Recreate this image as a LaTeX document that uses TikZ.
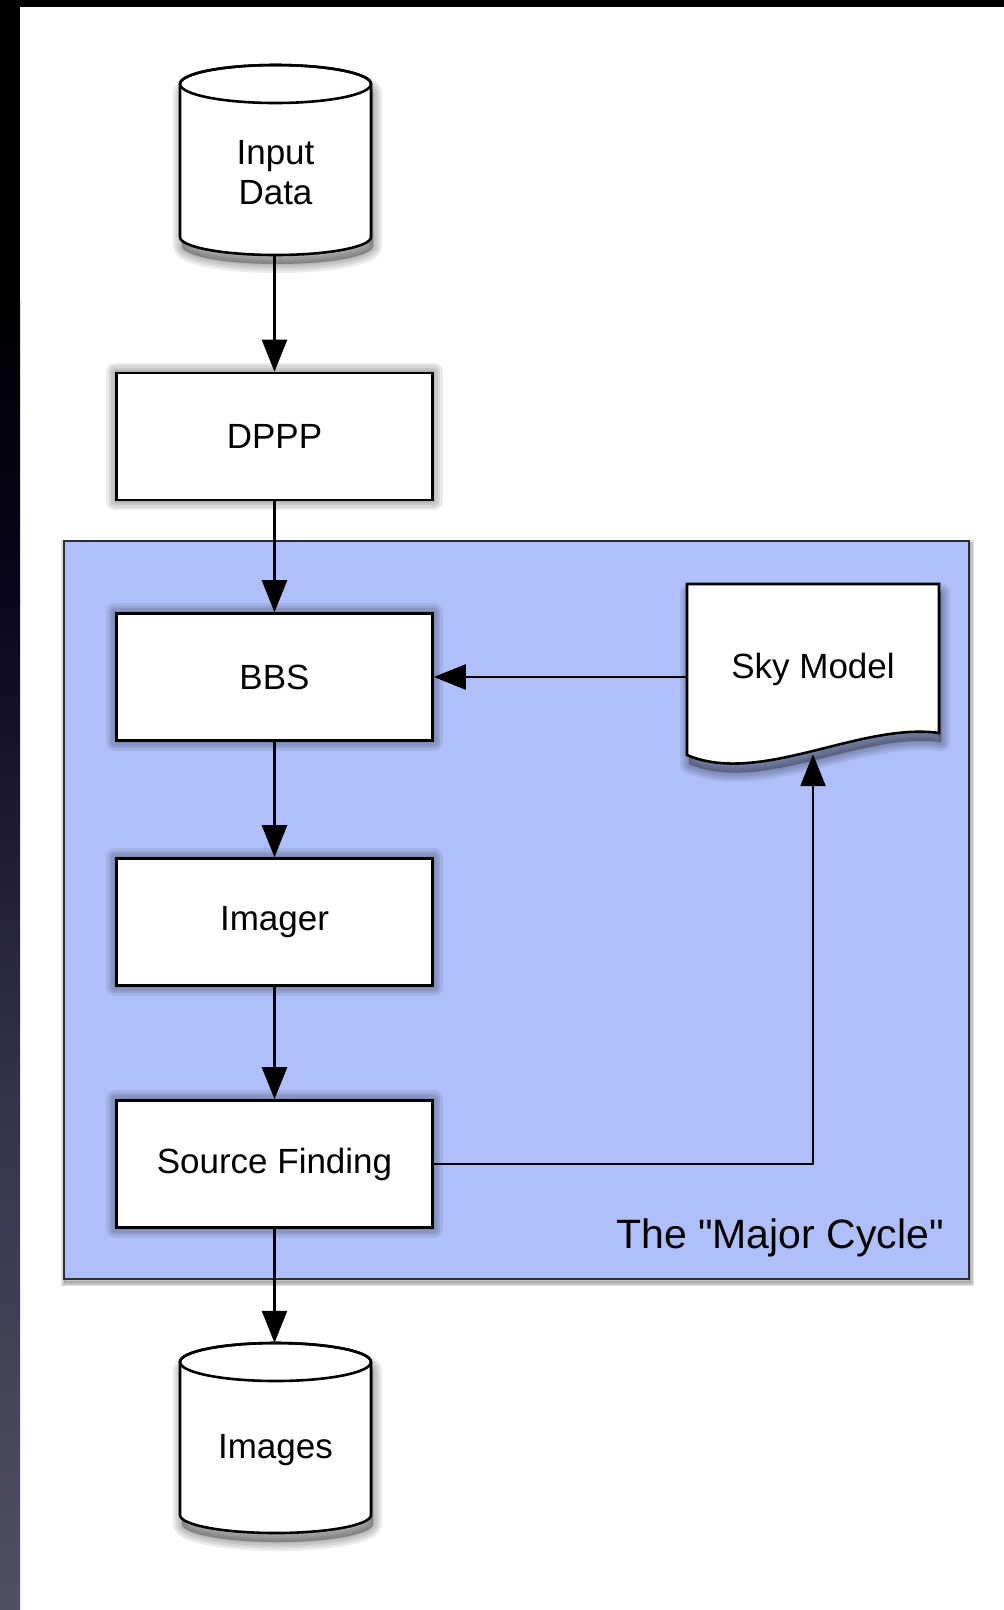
\documentclass[tikz,border=0pt]{standalone}
\usepackage{fontspec}
\setmainfont{Liberation Sans}[Ligatures=TeXOff]
\usetikzlibrary{arrows.meta}

\definecolor{cyclefill}{RGB}{175,191,249}
\definecolor{cycleline}{RGB}{45,45,52}
\definecolor{stripA}{RGB}{10,6,30}
\definecolor{stripB}{RGB}{53,51,73}
\definecolor{stripC}{RGB}{80,80,100}

\pgfdeclarelayer{bottom}
\pgfdeclarelayer{back}
\pgfdeclarelayer{shade}
\pgfsetlayers{bottom,back,shade,main}

% soft drop shadow: stacked translucent strokes of a shifted outline
\newcommand\dropshadow[1]{%
  \begin{scope}[xshift=2pt, yshift=-9pt]
    \foreach \w in {18,13,8,3} {
      \path[fill=black, fill opacity=0.08, draw=black, draw opacity=0.08,
            line width=\w pt, line join=round] #1;
    }
  \end{scope}}

\tikzset{
  procbox/.style={draw=black, line width=2.6pt, fill=white,
      minimum width=316pt, minimum height=127pt, inner sep=0pt,
      font=\fontsize{35}{42}\selectfont},
  outline/.style={draw=black, line width=2.6pt},
  lbl/.style={font=\fontsize{35}{40}\selectfont, align=center, inner sep=0pt},
  flow/.style={draw=black, line width=2.5pt,
      -{Triangle[length=32pt, width=25pt, fill=black]}},
  pics/drum/.style={code={
    \draw[outline, fill=white]
      (-95.5,-76.5) -- (-95.5,76.5)
      arc[start angle=180, end angle=0, x radius=95.5, y radius=18]
      -- (95.5,-76.5)
      arc[start angle=0, end angle=-180, x radius=95.5, y radius=19] -- cycle;
    \draw[outline] (0,-76.5) ellipse[x radius=95.5, y radius=19];
    \begin{pgfonlayer}{shade}
      \dropshadow{(-95.5,-76.5) -- (-95.5,76.5)
        arc[start angle=180, end angle=0, x radius=95.5, y radius=18]
        -- (95.5,-76.5)
        arc[start angle=0, end angle=-180, x radius=95.5, y radius=19] -- cycle}
    \end{pgfonlayer}
  }}
}

\begin{document}
\begin{tikzpicture}[x=1pt, y=-1pt]
  % page and its dark frame
  \useasboundingbox (0,0) rectangle (1004,1610);
  \begin{pgfonlayer}{bottom}
    \fill[white] (0,0) rectangle (1004,1610);
    \fill[black] (0,0) rectangle (20,300);
    \shade[top color=black, bottom color=stripA] (0,299) rectangle (20,601);
    \shade[top color=stripA, bottom color=stripB] (0,600) rectangle (20,1101);
    \shade[top color=stripB, bottom color=stripC] (0,1100) rectangle (20,1610);
    \fill[black] (0,0) rectangle (1004,7);
    % shadow of the cycle region
    \begin{scope}[xshift=1pt, yshift=-3pt]
      \foreach \w in {8,5,2} {
        \path[draw=black, draw opacity=0.12, line width=\w pt]
          (64,541) rectangle (969,1279);
      }
    \end{scope}
  \end{pgfonlayer}

  % the major cycle region
  \begin{pgfonlayer}{back}
    \path[fill=cyclefill, draw=cycleline, line width=2.6pt]
      (64,541) rectangle (969,1279);
  \end{pgfonlayer}
  \node[anchor=base east, inner sep=0pt, font=\fontsize{41}{46}\selectfont]
    (cyclelbl) at (944,1248) {The "Major Cycle"};

  % input and output data stores
  \pic at (275.5,160.5) {drum};
  \node[lbl] (input) at (275.5,173) {Input\\Data};
  \node[minimum width=191pt, minimum height=190pt, inner sep=0pt]
    (inputshape) at (274.5,160) {};

  \pic at (275.5,1438.5) {drum};
  \node[lbl] (imgtext) at (275.5,1450) {Images};
  \node[minimum width=191pt, minimum height=190pt, inner sep=0pt]
    (images) at (274.5,1438) {};

  % processing steps
  \node[procbox] (dppp) at (274.5,436.5) {DPPP};
  \node[procbox] (bbs) at (274.5,677) {BBS};
  \node[procbox] (imager) at (274.5,922) {Imager};
  \node[procbox] (src) at (274.5,1164) {Source Finding};
  \begin{pgfonlayer}{shade}
    \foreach \b in {dppp,bbs,imager,src} {
      \dropshadow{(\b.north west) rectangle (\b.south east)}
    }
  \end{pgfonlayer}

  % sky model document
  \draw[outline, fill=white, line join=miter]
    (687,584) -- (939,584) -- (939,733)
    .. controls (860,722) and (760,786) .. (687,755) -- cycle;
  \begin{pgfonlayer}{shade}
    \dropshadow{(687,584) -- (939,584) -- (939,733)
      .. controls (860,722) and (760,786) .. (687,755) -- cycle}
  \end{pgfonlayer}
  \node[lbl, minimum width=252pt, minimum height=170pt]
    (sky) at (813,669) {Sky Model};

  % connectors
  \draw[flow] (inputshape.south) -- (dppp.north);
  \draw[flow] (dppp.south) -- (bbs.north);
  \draw[flow] (bbs.south) -- (imager.north);
  \draw[flow] (imager.south) -- (src.north);
  \draw[flow] (src.south) -- (images.north);
  \draw[flow] (sky.west |- bbs.east) -- (bbs.east);
  \draw[flow] (src.east) -| (sky.south);
\end{tikzpicture}
\end{document}
